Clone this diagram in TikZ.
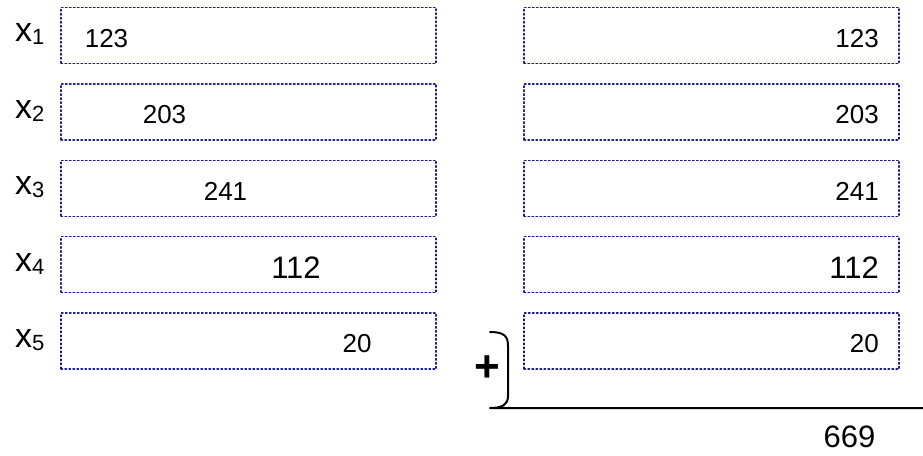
\documentclass[tikz,border=0pt]{standalone}
\usepackage{fontspec}
\setmainfont{Liberation Sans}
\definecolor{boxblue}{RGB}{25,25,145}
\tikzset{
	numbox/.style={draw=boxblue, line width=1.5pt, dash pattern=on 1.5pt off 2.5pt, minimum width=375pt, minimum height=56pt, inner sep=0pt},
	num/.style={inner sep=0pt, font=\fontsize{26}{26}\selectfont},
	bignum/.style={inner sep=0pt, font=\fontsize{31}{31}\selectfont},
	varlabel/.style={inner sep=0pt, anchor=west, font=\fontsize{34}{34}\selectfont},
}
\newcommand{\xsub}[1]{x\raisebox{-3pt}{\fontsize{22}{22}\selectfont #1}}
\begin{document}
\begin{tikzpicture}[x=1pt, y=-1pt, line join=round, line cap=round]
			\useasboundingbox (0,0) rectangle (923,455);
			%%%%%%%%%%%%%%%%%%%%%%%%%%%%%%%%%
			\foreach \i in {1,...,5}{
				\node[numbox] (l\i) at (248.5,{35.5+76.4*(\i-1)}) {};
				\node[numbox] (r\i) at (711.5,{35.5+76.4*(\i-1)}) {};
				\node[varlabel] (x\i) at (15,{34.5+76.4*(\i-1)}) {\xsub{\i}};
			}
			%%%%%%%%%%%%%%%%%%%%%%%%%%%%%%%%%
			\node[num] (la) at (106.5,38.5) {123};
			\node[num] (lb) at (164.5,115) {203};
			\node[num] (lc) at (225.5,191.5) {241};
			\node[bignum] (ld) at (296,267.5) {112};
			\node[num] (le) at (357,344) {20};
			%%%%%%%%%%%%%%%%%%%%%%%%%%%%%%%%%
			\node[num, anchor=east] (ra) at (879,38.5) {123};
			\node[num, anchor=east] (rb) at (879,115) {203};
			\node[num, anchor=east] (rc) at (879,191.5) {241};
			\node[bignum, anchor=east] (rd) at (879,267.5) {112};
			\node[num, anchor=east] (re) at (879,344) {20};
			%%%%%%%%%%%%%%%%%%%%%%%%%%%%%%%%%
			\node[inner sep=0pt, font=\fontsize{44}{44}\selectfont\bfseries] (plus) at (487,369) {+};
			\coordinate (btop) at (490,332);
			\coordinate (bbot) at (490,408);
			\coordinate (lineend) at (923,408);
			\draw[line width=2pt] (btop) .. controls (504,332) and (508,336) .. (508,346) -- (508,396) .. controls (508,405) and (502,408) .. (bbot) -- (lineend);
			\node[bignum] (sum) at (849.5,437) {669};
			%%%%%%%%%%%%%%%%%%%%%%%%%%%%%%%%%
\end{tikzpicture}
\end{document}
